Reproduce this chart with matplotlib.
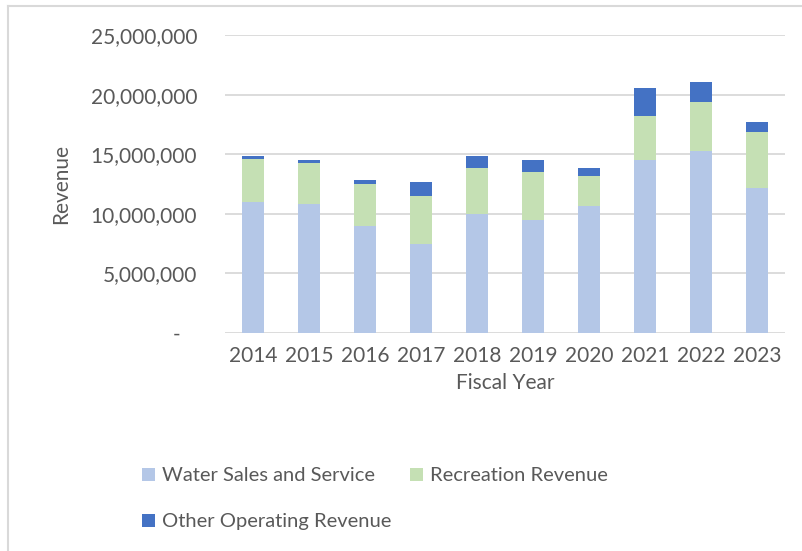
import numpy as np
import matplotlib.pyplot as plt
from matplotlib.ticker import FuncFormatter
from matplotlib.lines import Line2D

years = ['2014', '2015', '2016', '2017', '2018', '2019', '2020', '2021', '2022', '2023']
water = [10990000, 10800000, 8980000, 7440000, 9980000, 9450000, 10650000, 14490000, 15300000, 12140000]
recreation = [3630000, 3490000, 3490000, 4050000, 3860000, 4030000, 2520000, 3690000, 4050000, 4700000]
other = [230000, 220000, 370000, 1180000, 1010000, 1030000, 670000, 2370000, 1710000, 860000]

plt.rcParams['font.family'] = ['Lato', 'DejaVu Sans']
txt = '#595959'
grid = '#D9D9D9'

fig = plt.figure(figsize=(8.02, 5.51), dpi=100)
W, H = 802, 551
ax = fig.add_axes([225 / W, 1 - 333 / H, 560 / W, 298 / H])

x = np.arange(len(years))
water = np.array(water)
recreation = np.array(recreation)
other = np.array(other)
bw = 0.39
b1 = ax.bar(x, water, bw, color='#B4C7E7', label='Water Sales and Service', zorder=3)
b2 = ax.bar(x, recreation, bw, bottom=water, color='#C5E0B4', label='Recreation Revenue', zorder=3)
b3 = ax.bar(x, other, bw, bottom=water + recreation, color='#4472C4', label='Other Operating Revenue', zorder=3)

ax.set_xlim(-0.5, len(years) - 0.5)
ax.set_ylim(0, 25000000)
ax.set_yticks(np.arange(0, 25000001, 5000000))
ax.yaxis.set_major_formatter(FuncFormatter(lambda v, p: '-   ' if v == 0 else f'{int(v):,}'))
ax.set_xticks(x)
ax.set_xticklabels(years)
ax.grid(axis='y', color=grid, lw=1.3, zorder=0)
for s in ax.spines.values():
    s.set_visible(False)
ax.tick_params(axis='both', length=0, labelsize=15, labelcolor=txt)
ax.tick_params(axis='y', pad=20)
ax.tick_params(axis='x', pad=9)

ax.set_ylabel('Revenue', fontsize=15, color=txt)
ax.yaxis.set_label_coords(-0.275, 0.5)
ax.set_xlabel('Fiscal Year', fontsize=15, color=txt)
ax.xaxis.set_label_coords(0.5, -0.135)

# column-major fill, so this order gives rows: water | recreation, other
fig.legend([b1, b3, b2], ['Water Sales and Service', 'Other Operating Revenue', 'Recreation Revenue'],
           loc='upper left', bbox_to_anchor=(124 / W, 1 - 449 / H), ncol=2,
           frameon=False, fontsize=14.5, labelcolor=txt,
           handlelength=0.62, handleheight=0.62, handletextpad=0.35,
           columnspacing=0.95, labelspacing=1.45)

fig.add_artist(Line2D([8 / W, 1], [1 - 6 / H, 1 - 6 / H], color=grid, lw=1.5))
fig.add_artist(Line2D([8 / W, 8 / W], [0, 1 - 6 / H], color=grid, lw=1.5))

fig.savefig('out.png', dpi=100, facecolor='white')
